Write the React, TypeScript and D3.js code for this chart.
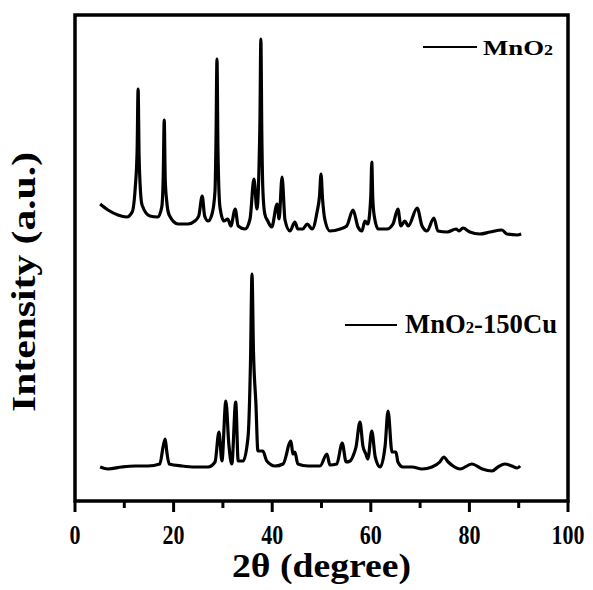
import React from "react";
import * as d3 from "d3";

// 2θ (degree), intensity (a.u.) pairs
const mno2Pattern: [number, number][] = [
  [5.1, 297], [6.7, 291], [8.7, 286], [10.5, 284], [11.6, 289], [12.2, 312], [12.6, 350], [12.8, 412],
  [13.0, 345], [13.2, 317], [13.6, 296], [15.2, 285], [16.8, 284], [17.6, 294], [17.9, 325], [18.1, 381],
  [18.3, 322], [18.6, 300], [19.1, 286], [20.9, 277], [22.9, 277], [24.3, 280], [25.1, 285], [25.8, 305],
  [26.3, 285], [27.0, 280], [27.8, 287], [28.4, 310], [28.6, 360], [28.8, 442], [29.0, 350], [29.4, 294],
  [30.2, 280], [31.0, 282], [31.6, 275], [32.5, 292], [33.1, 275], [34.5, 272], [35.5, 282], [36.3, 322],
  [36.9, 292], [37.5, 375], [37.7, 462], [37.9, 365], [38.1, 312], [38.5, 287], [39.1, 280], [39.9, 274],
  [41.0, 297], [41.4, 282], [42.0, 324], [42.6, 281], [43.6, 270], [44.6, 279], [45.2, 272], [46.2, 272],
  [47.1, 277], [48.1, 272], [49.1, 289], [49.6, 305], [49.9, 327], [50.2, 303], [50.7, 281], [51.7, 270],
  [53.8, 272], [55.1, 275], [56.4, 291], [57.4, 274], [58.2, 270], [58.8, 280], [59.4, 277], [60.0, 305],
  [60.2, 339], [60.4, 303], [60.7, 285], [61.5, 272], [63.3, 272], [64.5, 277], [65.5, 292], [66.1, 275],
  [66.9, 280], [67.6, 275], [69.4, 293], [70.4, 275], [71.4, 270], [72.8, 283], [73.6, 270], [75.5, 269],
  [77.3, 272], [77.9, 270], [78.7, 273], [80.1, 269], [82.1, 267], [84.2, 269], [86.6, 271], [87.6, 267],
  [89.7, 266], [90.5, 267],
];

const mno2CuPattern: [number, number][] = [
  [5.1, 34], [6.7, 32], [9.5, 34], [12.2, 35], [14.8, 35], [17.2, 37], [17.9, 55], [18.3, 62], [18.6, 50],
  [19.1, 37], [21.7, 35], [24.3, 34], [27.0, 34], [28.4, 39], [29.2, 69], [29.8, 40], [30.6, 100], [31.2, 57],
  [31.8, 37], [32.6, 99], [33.1, 40], [34.1, 40], [35.1, 64], [35.6, 140], [35.9, 227], [36.2, 150],
  [36.7, 97], [37.1, 50], [38.1, 50], [38.9, 40], [40.6, 35], [42.2, 37], [43.8, 60], [44.2, 47], [44.6, 49],
  [45.2, 37], [47.3, 35], [49.7, 35], [51.1, 47], [51.7, 36], [53.1, 37], [54.2, 58], [55.0, 39], [55.8, 40],
  [56.4, 45], [57.0, 54], [57.8, 79], [58.4, 55], [59.0, 47], [59.4, 42], [60.2, 70], [60.9, 44], [61.9, 34],
  [62.9, 55], [63.5, 90], [64.3, 49], [65.1, 49], [65.5, 39], [66.5, 34], [68.4, 34], [70.4, 32], [72.4, 34],
  [74.0, 39], [74.8, 44], [75.7, 39], [76.7, 35], [78.1, 32], [80.5, 37], [82.6, 32], [84.6, 30], [85.8, 34],
  [87.2, 37], [88.6, 35], [89.7, 33], [90.3, 35],
];

const xMajorTicks = [0, 20, 40, 60, 80, 100];
const xMinorTicks = [10, 30, 50, 70, 90];
const xTitle = "2θ (degree)";
const yTitle = "Intensity (a.u.)";

const W = 593;
const H = 590;
const left = 75;
const right = 568;
const top = 15;
const bottom = 501;

const FONT = "'Liberation Serif', 'Times New Roman', serif";

export default function App() {
  const x = d3.scaleLinear().domain([0, 100]).range([left, right]);
  const y = d3.scaleLinear().domain([0, 486]).range([bottom, top]);
  const line = d3
    .line<[number, number]>()
    .x((d) => x(d[0]))
    .y((d) => y(d[1]))
    .curve(d3.curveMonotoneX);

  return (
    <svg
      width={W}
      height={H}
      style={{ position: "absolute", left: 0, top: 0, background: "#fff" }}
      fontFamily={FONT}
      fontWeight="bold"
    >
      <rect x={0} y={0} width={W} height={H} fill="#fff" />
      <path d={line(mno2Pattern) || ""} fill="none" stroke="#000" strokeWidth={3.2} strokeLinejoin="round" />
      <path d={line(mno2CuPattern) || ""} fill="none" stroke="#000" strokeWidth={3.2} strokeLinejoin="round" />

      <rect x={left} y={top} width={right - left} height={bottom - top} fill="none" stroke="#000" strokeWidth={3.5} />

      {xMajorTicks.map((t) => (
        <g key={"M" + t}>
          <line x1={x(t)} x2={x(t)} y1={bottom} y2={bottom + 11} stroke="#000" strokeWidth={3} />
          <text
            x={x(t)}
            y={544}
            fontSize={27}
            textAnchor="middle"
            textLength={String(t).length * 11}
            lengthAdjust="spacingAndGlyphs"
          >
            {t}
          </text>
        </g>
      ))}
      {xMinorTicks.map((t) => (
        <line key={"m" + t} x1={x(t)} x2={x(t)} y1={bottom} y2={bottom + 7} stroke="#000" strokeWidth={3} />
      ))}

      <text x={(left + right) / 2} y={577} fontSize={33} textAnchor="middle" textLength={179} lengthAdjust="spacingAndGlyphs">
        {xTitle}
      </text>
      <text
        transform={`translate(35, 282) rotate(-90)`}
        fontSize={33}
        textAnchor="middle"
        textLength={260}
        lengthAdjust="spacingAndGlyphs"
      >
        {yTitle}
      </text>

      <line x1={423} x2={477} y1={47} y2={47} stroke="#000" strokeWidth={2} />
      <text x={483} y={55} fontSize={21} textLength={70} lengthAdjust="spacingAndGlyphs">
        MnO<tspan fontSize={14}>2</tspan>
      </text>

      <line x1={345} x2={397} y1={325} y2={325} stroke="#000" strokeWidth={2} />
      <text x={405} y={333} fontSize={27} textLength={152} lengthAdjust="spacingAndGlyphs">
        MnO<tspan fontSize={17}>2</tspan>-150Cu
      </text>
    </svg>
  );
}
